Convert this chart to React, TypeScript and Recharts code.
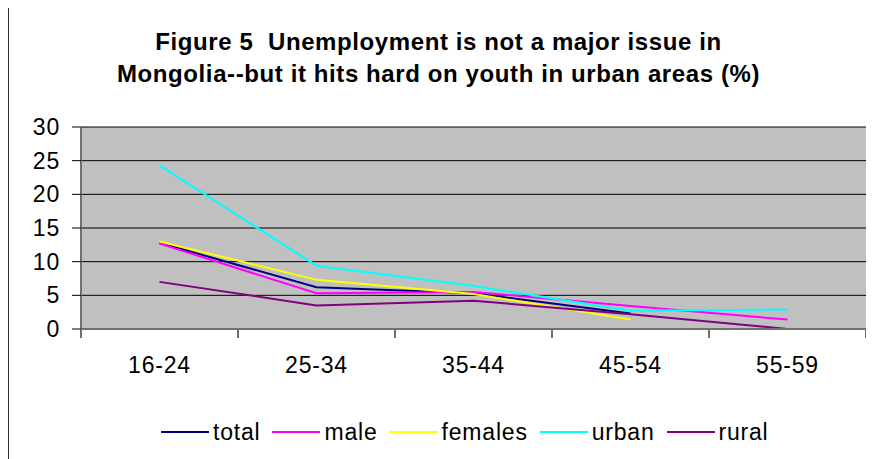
import { CartesianGrid, Legend, Line, LineChart, XAxis, YAxis } from "recharts";

const ageGroups = ["16-24", "25-34", "35-44", "45-54", "55-59"];
const total = [12.8, 6.2, 5.3, 2.3, null];
const male = [12.7, 5.3, 5.5, 3.4, 1.4];
const females = [13.0, 7.3, 5.2, 1.4, null];
const urban = [24.3, 9.4, 6.4, 2.7, 2.9];
const rural = [7.0, 3.5, 4.2, 2.2, 0];
const yTicks = [0, 5, 10, 15, 20, 25, 30];

const series = [
  { key: "total", color: "#000080", values: total },
  { key: "male", color: "#FF00FF", values: male },
  { key: "females", color: "#FFFF00", values: females },
  { key: "urban", color: "#00FFFF", values: urban },
  { key: "rural", color: "#800080", values: rural },
];

const data = ageGroups.map((group, i) => {
  const row: Record<string, string | number | null> = { group };
  series.forEach((s) => {
    row[s.key] = s.values[i];
  });
  return row;
});

const FONT = '"Liberation Sans", Arial, sans-serif';
const AXIS_GRAY = "#707070";
const X_TICK_MARGIN = 28;

// label at the band centre, tick marks on the band edges (Excel style)
function AgeTick({ x, y, payload, index }: any) {
  const half = payload?.offset ?? 0;
  const axisY = y - X_TICK_MARGIN;
  const last = index === ageGroups.length - 1;
  return (
    <g>
      <line x1={x - half} x2={x - half} y1={axisY} y2={axisY + 9} stroke={AXIS_GRAY} strokeWidth={2} />
      {last && <line x1={x + half} x2={x + half} y1={axisY} y2={axisY + 9} stroke={AXIS_GRAY} strokeWidth={2} />}
      <text
        x={x}
        y={y}
        dy="0.71em"
        textAnchor="middle"
        fill="#000"
        fontSize={23}
        fontFamily={FONT}
        letterSpacing={0.8}
      >
        {payload.value}
      </text>
    </g>
  );
}

// legend keeps the series order instead of recharts' alphabetical sort
function LegendRow() {
  return (
    <div
      style={{
        display: "flex",
        alignItems: "center",
        height: 28,
        fontFamily: FONT,
        fontSize: 23,
        letterSpacing: 0.8,
        color: "#000",
        whiteSpace: "nowrap",
      }}
    >
      {series.map((s) => (
        <div key={s.key} style={{ display: "flex", alignItems: "center", marginRight: 12 }}>
          <span style={{ display: "inline-block", width: 48, height: 2, background: s.color, marginRight: 4 }} />
          <span>{s.key}</span>
        </div>
      ))}
    </div>
  );
}

export default function App() {
  return (
    <div
      style={{
        position: "relative",
        marginTop: -4,
        marginLeft: -1,
        width: 865,
        height: 453,
        borderTop: "2px solid #000",
        borderLeft: "2px solid #333",
        background: "#fff",
        fontFamily: FONT,
      }}
    >
      <div
        style={{
          position: "absolute",
          top: 20,
          left: 0,
          right: 6,
          textAlign: "center",
          fontWeight: "bold",
          fontSize: 24,
          lineHeight: "32px",
          letterSpacing: 0.6,
          color: "#000",
        }}
      >
        <div>Figure 5&nbsp; Unemployment is not a major issue in</div>
        <div>Mongolia--but it hits hard on youth in urban areas (%)</div>
      </div>
      <LineChart width={865} height={453} data={data} margin={{ top: 121, right: 8, left: 0, bottom: 13 }}>
        <CartesianGrid fill="#C0C0C0" stroke="#000" strokeWidth={1} vertical={false} />
        <XAxis
          dataKey="group"
          scale="band"
          height={89}
          axisLine={{ stroke: AXIS_GRAY, strokeWidth: 2 }}
          tickLine={false}
          tickSize={0}
          tickMargin={X_TICK_MARGIN}
          interval={0}
          tick={<AgeTick />}
        />
        <XAxis xAxisId="top" orientation="top" height={0} tick={false} axisLine={{ stroke: AXIS_GRAY, strokeWidth: 2 }} />
        <YAxis
          domain={[0, 30]}
          ticks={yTicks}
          interval={0}
          width={72}
          tickSize={9}
          tickMargin={12}
          axisLine={{ stroke: AXIS_GRAY, strokeWidth: 2 }}
          tickLine={{ stroke: "#000", strokeWidth: 1 }}
          tick={{ fill: "#000", fontSize: 23, fontFamily: FONT, letterSpacing: 0.8 }}
        />
        <YAxis yAxisId="right" orientation="right" width={0} tick={false} axisLine={{ stroke: AXIS_GRAY, strokeWidth: 2 }} />
        {series.map((s) => (
          <Line
            key={s.key}
            type="linear"
            dataKey={s.key}
            name={s.key}
            stroke={s.color}
            strokeWidth={2}
            dot={false}
            activeDot={false}
            isAnimationActive={false}
          />
        ))}
        <Legend verticalAlign="bottom" content={LegendRow} wrapperStyle={{ left: 152, width: "auto" }} />
      </LineChart>
    </div>
  );
}
